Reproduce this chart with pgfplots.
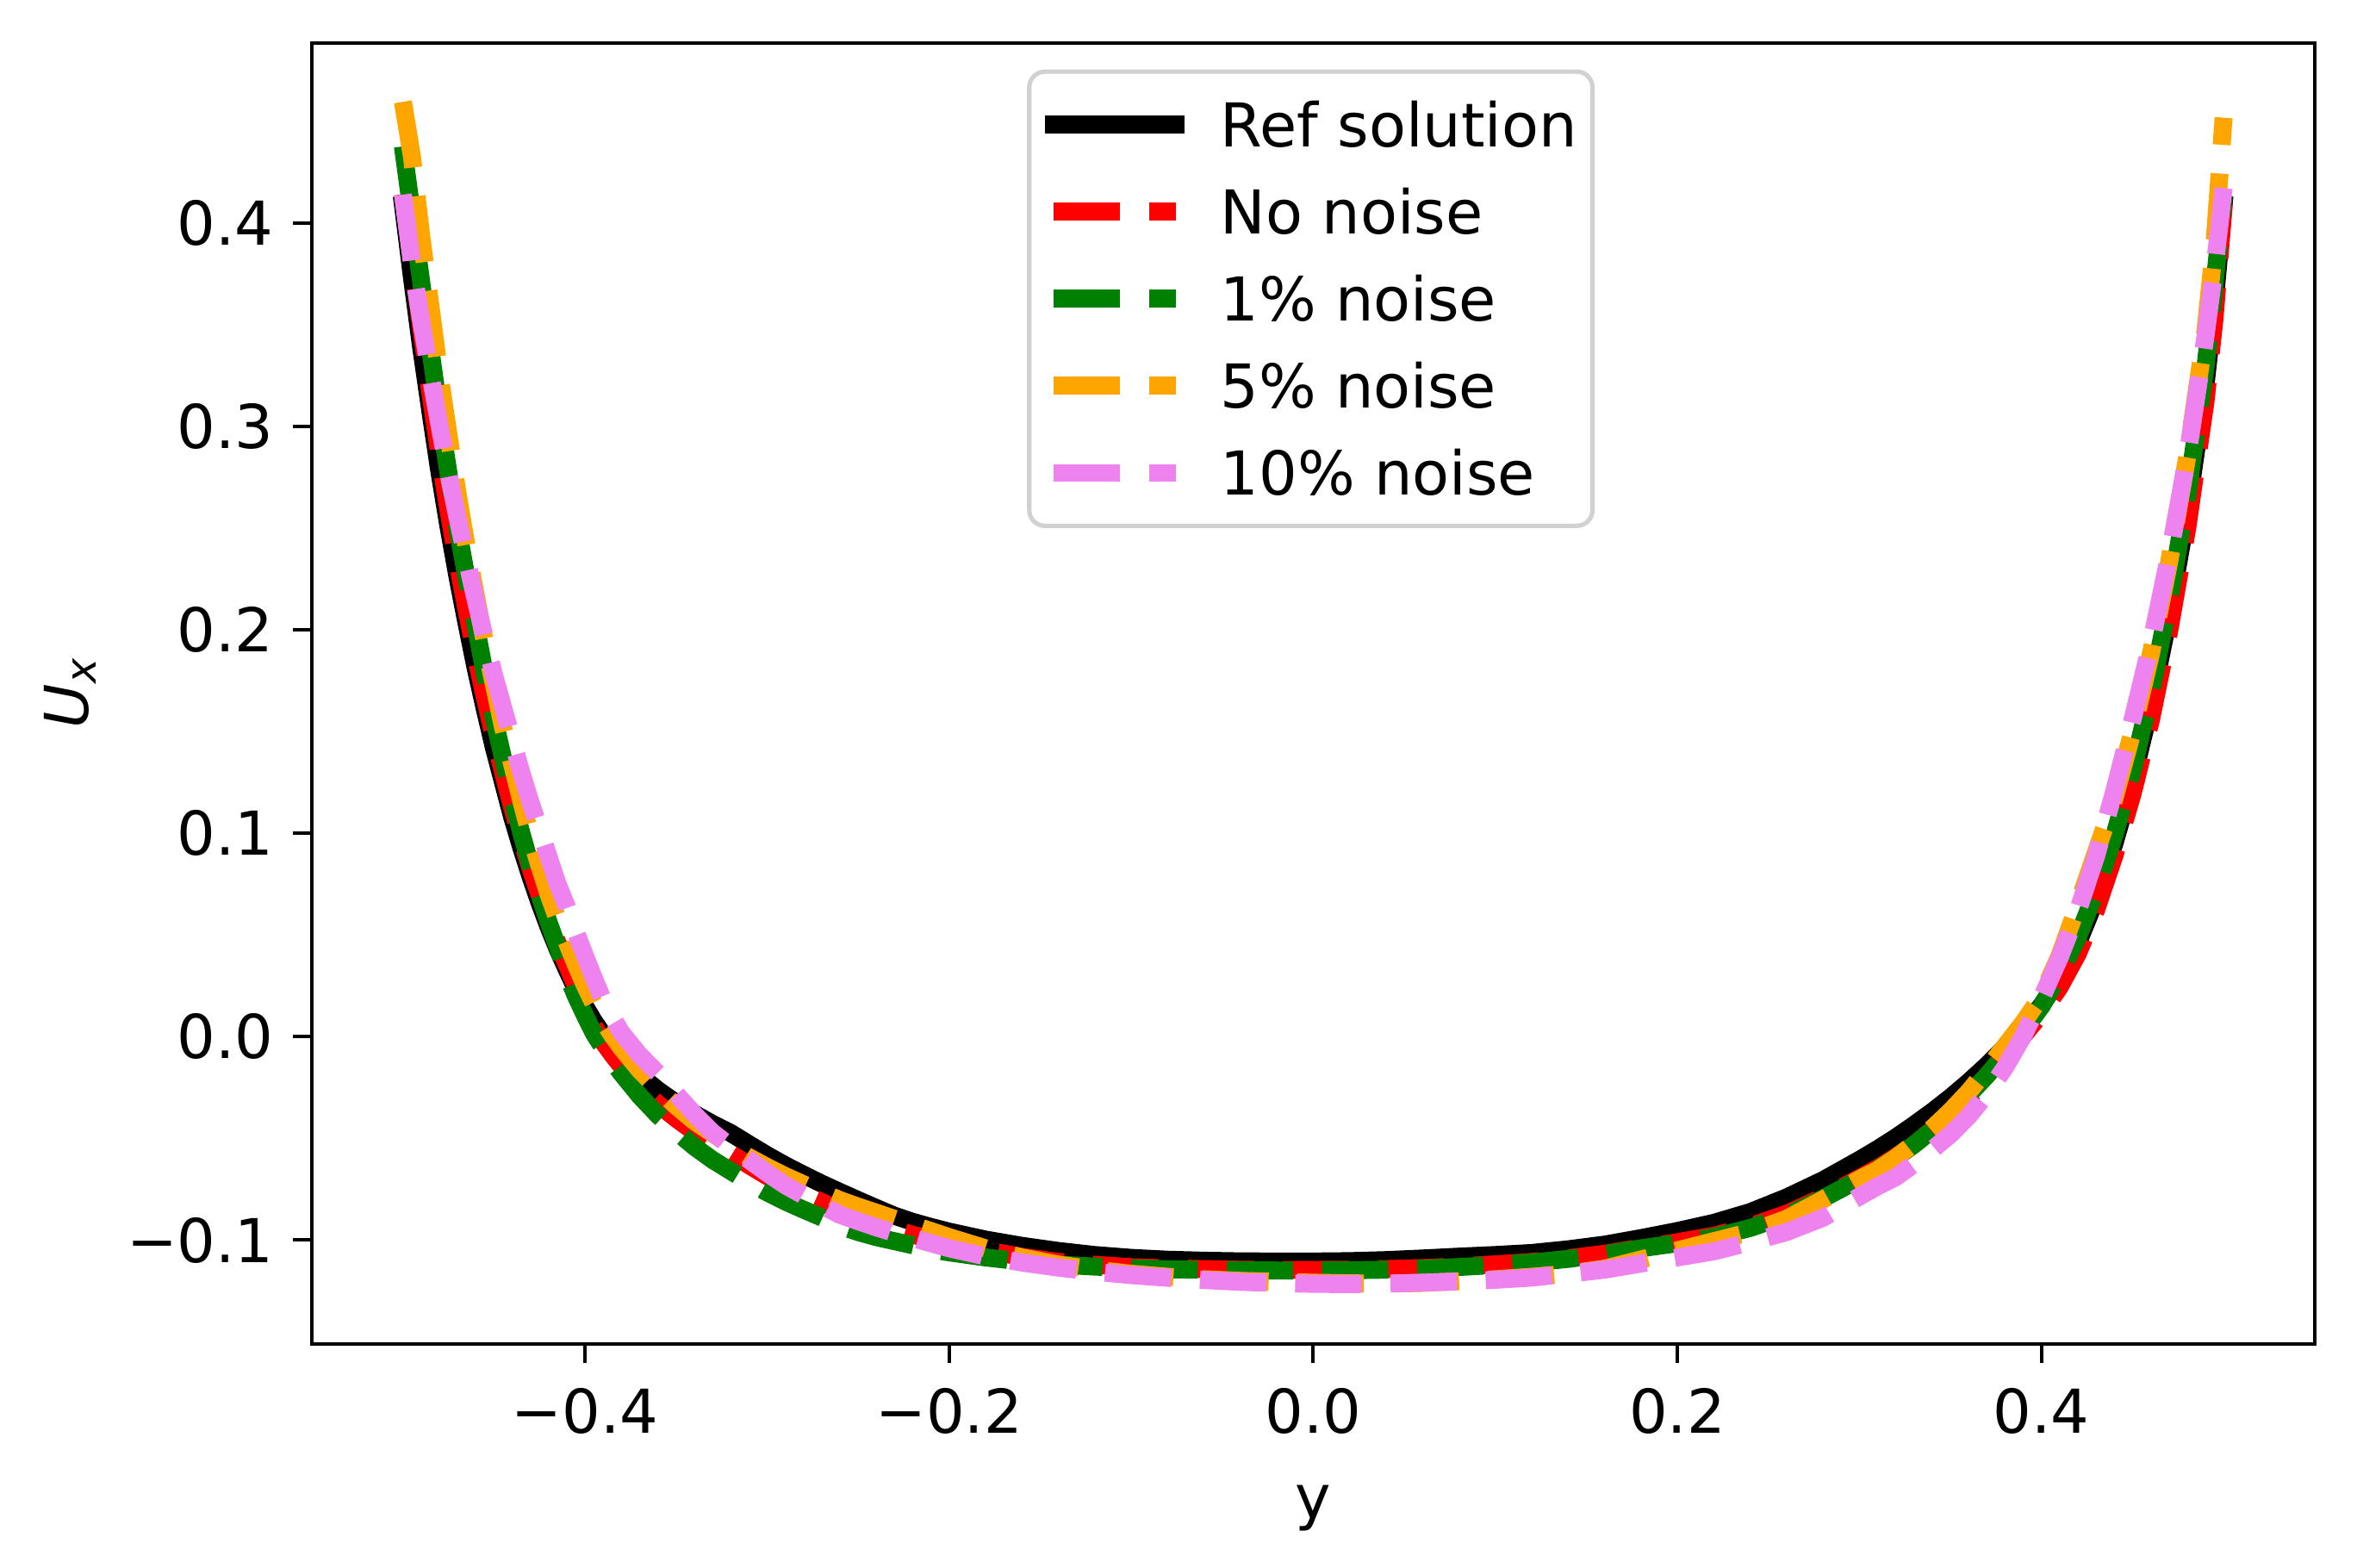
\documentclass[border=0pt]{standalone}
\usepackage{fontspec}
\setmainfont{DejaVu Sans}
\usepackage{pgfplots}
\pgfplotsset{compat=1.18}
\definecolor{mplred}{rgb}{1,0,0}
\definecolor{mplgreen}{rgb}{0,0.50196,0}
\definecolor{mplorange}{rgb}{1,0.64706,0}
\definecolor{mplviolet}{rgb}{0.93333,0.5098,0.93333}
\definecolor{legframe}{rgb}{0.82,0.82,0.82}
\begin{document}
\fontsize{9.65}{11.6}\selectfont
\begin{tikzpicture}
\useasboundingbox (-49.75pt,-35.73pt) rectangle (326.25pt,214.37pt);
\begin{axis}[
  at={(0pt,0pt)}, anchor=south west,
  scale only axis, width=319.5pt, height=207.5pt,
  xmin=-0.55, xmax=0.55, ymin=-0.151, ymax=0.4885,
  axis line style={line width=0.55pt},
  every tick/.style={black, line width=0.55pt},
  tick align=inside, major tick length=-3pt,
  tick pos=left,
  font=\fontsize{9.65}{11.6}\selectfont,
  xtick={-0.4,-0.2,0,0.2,0.4},
  xticklabels={−0.4,−0.2,0.0,0.2,0.4},
  ytick={-0.1,0,0.1,0.2,0.3,0.4},
  yticklabels={−0.1,0.0,0.1,0.2,0.3,0.4},
  minor tick num=0,
  xticklabel style={anchor=north, inner sep=0pt, yshift=-6.87pt, font=\fontsize{9.65}{11.6}\selectfont},
  yticklabel style={anchor=east, inner sep=0pt, xshift=-5.9pt, font=\fontsize{9.65}{11.6}\selectfont},
  xlabel={y},
  xlabel style={at={(axis description cs:0.5,0)}, anchor=base, inner sep=0pt, yshift=-27.8pt, font=\fontsize{9.65}{11.6}\selectfont},
  ylabel={\textit{U}\raisebox{-1.3pt}{\fontsize{6.75}{8}\selectfont\textit{x}}},
  ylabel style={at={(axis description cs:-0.11174,0.5)}, rotate=0, anchor=base, inner sep=0pt, font=\fontsize{9.65}{11.6}\selectfont},
  legend image code/.code={\draw[#1] (0pt,0pt) -- (19.5pt,0pt);},
  legend style={at={(axis description cs:0.3571,0.9797)}, anchor=north west,
    draw=legframe, line width=0.7pt, rounded corners=2.5pt, fill=white,
    inner xsep=2.45pt, inner ysep=4.9pt, row sep=6.85pt,
    font=\fontsize{9.65}{11.6}\selectfont,
    cells={anchor=west},
    nodes={inner sep=0pt, text height=7.05pt, text depth=0pt, anchor=west},
    /tikz/every odd column/.style={column sep=5.7pt}},
  every axis plot/.append style={line width=2.86pt, line join=round},
]
\addplot[black, line cap=rect] coordinates {
(-0.500,0.409) (-0.495,0.373) (-0.490,0.339) (-0.485,0.308) (-0.480,0.278)
(-0.475,0.251) (-0.470,0.226) (-0.465,0.203) (-0.460,0.181) (-0.455,0.161)
(-0.450,0.142) (-0.445,0.125) (-0.440,0.108) (-0.435,0.093) (-0.430,0.079)
(-0.425,0.066) (-0.420,0.054) (-0.415,0.043) (-0.410,0.033) (-0.405,0.0235)
(-0.400,0.015) (-0.395,0.0075) (-0.390,0.0010) (-0.385,-0.0048) (-0.380,-0.0100)
(-0.370,-0.0188) (-0.360,-0.0262) (-0.350,-0.0325) (-0.340,-0.0378) (-0.330,-0.0428)
(-0.320,-0.0473) (-0.310,-0.0528) (-0.300,-0.0582) (-0.290,-0.0632) (-0.280,-0.0678)
(-0.270,-0.0722) (-0.260,-0.0763) (-0.250,-0.0803) (-0.240,-0.0842) (-0.230,-0.0880)
(-0.220,-0.0910) (-0.210,-0.0935) (-0.200,-0.0958) (-0.180,-0.0997) (-0.160,-0.1028)
(-0.140,-0.1053) (-0.120,-0.1073) (-0.100,-0.1087) (-0.080,-0.1096) (-0.060,-0.1101)
(-0.040,-0.1104) (-0.020,-0.1105) (0.000,-0.1105) (0.020,-0.1103) (0.040,-0.1098)
(0.060,-0.1090) (0.080,-0.1081) (0.100,-0.1073) (0.120,-0.1063) (0.140,-0.1045)
(0.160,-0.1022) (0.180,-0.0990) (0.200,-0.0955) (0.220,-0.0915) (0.240,-0.0862)
(0.260,-0.0790) (0.280,-0.0705) (0.300,-0.0605) (0.310,-0.0552) (0.320,-0.0495)
(0.330,-0.0433) (0.340,-0.0368) (0.350,-0.0298) (0.360,-0.0222) (0.370,-0.0140)
(0.380,-0.0050) (0.390,0.0048) (0.400,0.0155) (0.410,0.0290) (0.420,0.0460)
(0.430,0.0680) (0.440,0.0950) (0.450,0.1260) (0.460,0.1630) (0.470,0.2070)
(0.480,0.2580) (0.490,0.3200) (0.495,0.3600) (0.500,0.4090)
};
\addlegendentry{Ref solution}
\addplot[mplred, dash pattern=on 10.6pt off 4.6pt] coordinates {
(-0.500,0.4142) (-0.495,0.3835) (-0.490,0.3488) (-0.485,0.3172) (-0.480,0.2866)
(-0.475,0.2589) (-0.470,0.2332) (-0.465,0.2098) (-0.460,0.1873) (-0.455,0.1669)
(-0.450,0.1474) (-0.445,0.1301) (-0.440,0.1128) (-0.435,0.0974) (-0.430,0.0830)
(-0.425,0.0698) (-0.420,0.0575) (-0.415,0.0460) (-0.410,0.0355) (-0.405,0.0250)
(-0.400,0.0140) (-0.395,0.0050) (-0.390,-0.0026) (-0.385,-0.0088) (-0.380,-0.0144)
(-0.370,-0.0244) (-0.360,-0.0330) (-0.350,-0.0402) (-0.340,-0.0467) (-0.330,-0.0525)
(-0.320,-0.0576) (-0.310,-0.0631) (-0.300,-0.0685) (-0.290,-0.0730) (-0.280,-0.0773)
(-0.270,-0.0812) (-0.260,-0.0856) (-0.250,-0.0889) (-0.240,-0.0921) (-0.230,-0.0949)
(-0.220,-0.0973) (-0.210,-0.0996) (-0.200,-0.1014) (-0.180,-0.1050) (-0.160,-0.1082)
(-0.140,-0.1107) (-0.120,-0.1121) (-0.100,-0.1133) (-0.080,-0.1138) (-0.060,-0.1142)
(-0.040,-0.1145) (-0.020,-0.1146) (0.000,-0.1146) (0.020,-0.1145) (0.040,-0.1142)
(0.060,-0.1137) (0.080,-0.1129) (0.100,-0.1119) (0.120,-0.1107) (0.140,-0.1089)
(0.160,-0.1067) (0.180,-0.1037) (0.200,-0.1010) (0.220,-0.0978) (0.240,-0.0932)
(0.260,-0.0870) (0.280,-0.0788) (0.300,-0.0695) (0.310,-0.0645) (0.320,-0.0590)
(0.330,-0.0527) (0.340,-0.0458) (0.350,-0.0385) (0.360,-0.0300) (0.370,-0.0200)
(0.380,-0.0085) (0.390,0.0005) (0.400,0.0115) (0.410,0.0245) (0.420,0.0410)
(0.430,0.0625) (0.440,0.0890) (0.450,0.1195) (0.460,0.1555) (0.470,0.1990)
(0.480,0.2500) (0.490,0.3120) (0.495,0.3530) (0.500,0.4088)
};
\addlegendentry{No noise}
\addplot[mplgreen, dash pattern=on 10.6pt off 4.6pt] coordinates {
(-0.500,0.4377) (-0.495,0.4045) (-0.490,0.3715) (-0.485,0.3385) (-0.480,0.3065)
(-0.475,0.2773) (-0.470,0.2500) (-0.465,0.2255) (-0.460,0.2020) (-0.455,0.1785)
(-0.450,0.1564) (-0.445,0.1369) (-0.440,0.1176) (-0.435,0.1003) (-0.430,0.0844)
(-0.425,0.0698) (-0.420,0.0563) (-0.415,0.0440) (-0.410,0.0310) (-0.405,0.0200)
(-0.400,0.0105) (-0.395,0.0015) (-0.390,-0.0055) (-0.385,-0.0120) (-0.380,-0.0180)
(-0.370,-0.0290) (-0.360,-0.0385) (-0.350,-0.0465) (-0.340,-0.0540) (-0.330,-0.0605)
(-0.320,-0.0660) (-0.310,-0.0715) (-0.300,-0.0765) (-0.290,-0.0810) (-0.280,-0.0850)
(-0.270,-0.0888) (-0.260,-0.0930) (-0.250,-0.0960) (-0.240,-0.0985) (-0.230,-0.1005)
(-0.220,-0.1025) (-0.210,-0.1045) (-0.200,-0.1060) (-0.180,-0.1085) (-0.160,-0.1105)
(-0.140,-0.1120) (-0.120,-0.1130) (-0.100,-0.1138) (-0.080,-0.1143) (-0.060,-0.1146)
(-0.040,-0.1148) (-0.020,-0.1149) (0.000,-0.1149) (0.020,-0.1148) (0.040,-0.1145)
(0.060,-0.1140) (0.080,-0.1132) (0.100,-0.1122) (0.120,-0.1110) (0.140,-0.1092)
(0.160,-0.1070) (0.180,-0.1040) (0.200,-0.1015) (0.220,-0.0985) (0.240,-0.0940)
(0.260,-0.0878) (0.280,-0.0795) (0.300,-0.0700) (0.310,-0.0650) (0.320,-0.0595)
(0.330,-0.0530) (0.340,-0.0458) (0.350,-0.0375) (0.360,-0.0285) (0.370,-0.0190)
(0.380,-0.0085) (0.390,0.0030) (0.400,0.0150) (0.410,0.0310) (0.420,0.0490)
(0.430,0.0720) (0.440,0.0990) (0.450,0.1310) (0.460,0.1690) (0.470,0.2140)
(0.480,0.2660) (0.490,0.3290) (0.495,0.3700) (0.500,0.4137)
};
\addlegendentry{1\% noise}
\addplot[mplorange, dash pattern=on 10.6pt off 4.6pt] coordinates {
(-0.500,0.4596) (-0.495,0.4325) (-0.490,0.3940) (-0.485,0.3600) (-0.480,0.3260)
(-0.475,0.2960) (-0.470,0.2670) (-0.465,0.2410) (-0.460,0.2170) (-0.455,0.1940)
(-0.450,0.1730) (-0.445,0.1520) (-0.440,0.1340) (-0.435,0.1160) (-0.430,0.0990)
(-0.425,0.0840) (-0.420,0.0700) (-0.415,0.0577) (-0.410,0.0466) (-0.405,0.0354)
(-0.400,0.0252) (-0.395,0.0159) (-0.390,0.0076) (-0.385,0.0007) (-0.380,-0.0055)
(-0.370,-0.0164) (-0.360,-0.0255) (-0.350,-0.0340) (-0.340,-0.0415) (-0.330,-0.0475)
(-0.320,-0.0535) (-0.310,-0.0592) (-0.300,-0.0640) (-0.290,-0.0685) (-0.280,-0.0725)
(-0.270,-0.0765) (-0.260,-0.0803) (-0.250,-0.0835) (-0.240,-0.0865) (-0.230,-0.0895)
(-0.220,-0.0925) (-0.210,-0.0955) (-0.200,-0.0985) (-0.180,-0.1040) (-0.160,-0.1085)
(-0.140,-0.1120) (-0.120,-0.1145) (-0.100,-0.1165) (-0.080,-0.1180) (-0.060,-0.1192)
(-0.040,-0.1200) (-0.020,-0.1205) (0.000,-0.1209) (0.020,-0.1212) (0.040,-0.1214)
(0.060,-0.1210) (0.080,-0.1202) (0.100,-0.1192) (0.120,-0.1180) (0.140,-0.1165)
(0.160,-0.1140) (0.180,-0.1095) (0.200,-0.1050) (0.220,-0.1005) (0.240,-0.0960)
(0.260,-0.0895) (0.280,-0.0800) (0.290,-0.0750) (0.300,-0.0700) (0.310,-0.0655)
(0.320,-0.0595) (0.330,-0.0525) (0.340,-0.0450) (0.350,-0.0365) (0.360,-0.0270)
(0.370,-0.0160) (0.380,-0.0045) (0.390,0.0070) (0.400,0.0200) (0.410,0.0400)
(0.420,0.0650) (0.430,0.0910) (0.440,0.1170) (0.450,0.1500) (0.460,0.1880)
(0.470,0.2330) (0.480,0.2850) (0.490,0.3470) (0.495,0.3900) (0.500,0.4518)
};
\addlegendentry{5\% noise}
\addplot[mplviolet, dash pattern=on 10.6pt off 4.6pt] coordinates {
(-0.500,0.4140) (-0.495,0.3800) (-0.490,0.3520) (-0.485,0.3260) (-0.480,0.3010)
(-0.475,0.2770) (-0.470,0.2550) (-0.465,0.2345) (-0.460,0.2146) (-0.455,0.1960)
(-0.450,0.1780) (-0.445,0.1620) (-0.440,0.1460) (-0.435,0.1300) (-0.430,0.1155)
(-0.425,0.1020) (-0.420,0.0885) (-0.415,0.0750) (-0.410,0.0640) (-0.405,0.0514)
(-0.400,0.0398) (-0.395,0.0285) (-0.390,0.0178) (-0.385,0.0095) (-0.380,0.0020)
(-0.370,-0.0090) (-0.360,-0.0180) (-0.350,-0.0280) (-0.340,-0.0380) (-0.330,-0.0470)
(-0.320,-0.0540) (-0.310,-0.0605) (-0.300,-0.0670) (-0.290,-0.0730) (-0.280,-0.0780)
(-0.270,-0.0830) (-0.260,-0.0875) (-0.250,-0.0907) (-0.240,-0.0937) (-0.230,-0.0965)
(-0.220,-0.0990) (-0.210,-0.1015) (-0.200,-0.1040) (-0.180,-0.1080) (-0.160,-0.1110)
(-0.140,-0.1135) (-0.120,-0.1155) (-0.100,-0.1172) (-0.080,-0.1185) (-0.060,-0.1196)
(-0.040,-0.1205) (-0.020,-0.1211) (0.000,-0.1215) (0.020,-0.1216) (0.040,-0.1214)
(0.060,-0.1209) (0.080,-0.1203) (0.100,-0.1195) (0.120,-0.1184) (0.140,-0.1165)
(0.160,-0.1145) (0.180,-0.1115) (0.200,-0.1085) (0.220,-0.1055) (0.240,-0.1010)
(0.260,-0.0960) (0.280,-0.0890) (0.300,-0.0785) (0.310,-0.0735) (0.320,-0.0690)
(0.330,-0.0625) (0.340,-0.0555) (0.350,-0.0480) (0.360,-0.0390) (0.370,-0.0280)
(0.380,-0.0150) (0.390,0.0005) (0.400,0.0190) (0.410,0.0390) (0.420,0.0620)
(0.430,0.0890) (0.440,0.1210) (0.450,0.1560) (0.460,0.1930) (0.470,0.2360)
(0.480,0.2850) (0.490,0.3440) (0.495,0.3780) (0.500,0.4172)
};
\addlegendentry{10\% noise}
\end{axis}
\end{tikzpicture}
\end{document}
